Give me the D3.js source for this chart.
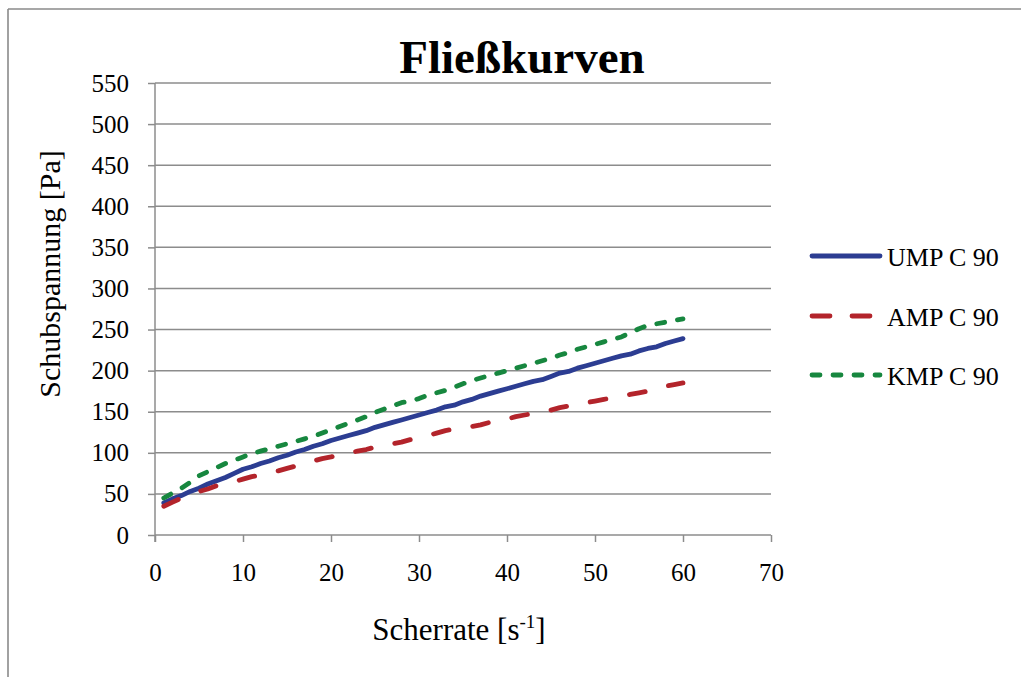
<!DOCTYPE html>
<html>
<head>
<meta charset="utf-8">
<script src="https://cdn.jsdelivr.net/npm/d3@7"></script>
<style>
  html, body { margin: 0; padding: 0; background: #fff; }
  svg { display: block; }
  text { font-family: "Liberation Serif", "Times New Roman", serif; fill: #000; }
</style>
</head>
<body>
<svg id="chart" width="1021" height="677"></svg>
<script>
// Shear rate [1/s]
const shearRate = d3.range(1, 61);

// Shear stress [Pa] per sample
const ump = [39,44,48,53,57,62,66,70,75,80, 83,87,90,94,97,101,104,108,111,115,
             118,121,124,127,131,134,137,140,143,146, 149,152,156,158,162,165,169,172,175,178,
             181,184,187,189,193,197,199,203,206,209, 212,215,218,220,224,227,229,233,236,239];
const amp = [35,40,45,49,53,56,60,62,65,68, 71,73,76,78,81,84,87,90,93,95,
             98,100,102,104,107,109,111,113,116,118, 121,124,127,129,131,132,134,137,139,141,
             144,146,148,150,152,155,157,159,161,163, 165,167,169,171,173,175,178,181,183,185];
const kmp = [45,51,57,64,72,77,82,87,91,95, 99,102,105,108,111,114,117,120,124,128,
             132,136,140,144,149,153,157,161,163,166, 170,173,176,180,184,188,191,194,197,200,
             203,206,209,212,215,219,222,226,229,232, 235,238,241,246,251,255,257,259,261,263];

const seriesNames = ["UMP C 90", "AMP C 90", "KMP C 90"];
const seriesValues = [ump, amp, kmp];
const seriesColors = ["#2c3d92", "#b3242b", "#17873f"];
const seriesDash = [null, "16,24", "8,13"];

const xTicks = d3.range(0, 71, 10);
const yTicks = d3.range(0, 551, 50);

const svg = d3.select("#chart");
const W = 1021, H = 677;
const serif = "Liberation Serif, Times New Roman, serif";

// chart frame (only top and left edges visible)
svg.append("line").attr("x1", 8).attr("y1", 9).attr("x2", W).attr("y2", 9)
  .attr("stroke", "#8a8a8a").attr("stroke-width", 1.6);
svg.append("line").attr("x1", 8).attr("y1", 9).attr("x2", 8).attr("y2", H)
  .attr("stroke", "#8a8a8a").attr("stroke-width", 1.6);

const x = d3.scaleLinear().domain([0, 70]).range([155, 771]);
const y = d3.scaleLinear().domain([0, 550]).range([535, 83]);

const gridColor = "#8c8c8c";

// horizontal gridlines
svg.append("g").selectAll("line").data(yTicks.filter(v => v > 0)).join("line")
  .attr("x1", x(0)).attr("x2", x(70))
  .attr("y1", d => y(d)).attr("y2", d => y(d))
  .attr("stroke", gridColor).attr("stroke-width", 1.5);

// y axis
const yAxis = svg.append("g").attr("transform", `translate(${x(0)},0)`)
  .call(d3.axisLeft(y).tickValues(yTicks).tickSize(7).tickPadding(19));
yAxis.select(".domain").attr("stroke", gridColor).attr("stroke-width", 1.5)
  .attr("d", `M0,${y(550)}V${y(0) + 7}`);
yAxis.selectAll(".tick line").attr("stroke", gridColor).attr("stroke-width", 1.5);
yAxis.selectAll(".tick text").attr("font-size", 25)
  .attr("font-family", serif).attr("fill", "#000");

// x axis
const xAxis = svg.append("g").attr("transform", `translate(0,${y(0)})`)
  .call(d3.axisBottom(x).tickValues(xTicks).tickSize(7).tickPadding(21));
xAxis.select(".domain").attr("stroke", gridColor).attr("stroke-width", 1.5)
  .attr("d", `M${x(0)},0H${x(70)}`);
xAxis.selectAll(".tick line").attr("stroke", gridColor).attr("stroke-width", 1.5);
xAxis.selectAll(".tick text").attr("font-size", 25)
  .attr("font-family", serif).attr("fill", "#000");

// series lines
const line = d3.line().x((d, i) => x(shearRate[i])).y(d => y(d));
seriesValues.forEach((vals, k) => {
  svg.append("path").datum(vals)
    .attr("d", line)
    .attr("fill", "none")
    .attr("stroke", seriesColors[k])
    .attr("stroke-width", 4.8)
    .attr("stroke-linecap", "round")
    .attr("stroke-linejoin", "round")
    .attr("stroke-dasharray", seriesDash[k]);
});

// title
svg.append("text").attr("x", 522).attr("y", 73).attr("text-anchor", "middle")
  .attr("font-size", 47).attr("font-weight", "bold").text("Fließkurven");

// axis titles
svg.append("text").attr("transform", "translate(60,274) rotate(-90)")
  .attr("text-anchor", "middle").attr("font-size", 30).text("Schubspannung [Pa]");

const xt = svg.append("text").attr("x", 459).attr("y", 640).attr("text-anchor", "middle")
  .attr("font-size", 31);
xt.append("tspan").text("Scherrate [s");
xt.append("tspan").attr("font-size", 19).attr("dy", -12).text("-1");
xt.append("tspan").attr("dy", 12).text("]");

// legend
const legendY = [256, 316, 375];
seriesNames.forEach((name, k) => {
  const g = svg.append("g").attr("transform", `translate(0,${legendY[k]})`);
  g.append("line").attr("x1", 812).attr("x2", k === 1 ? 870 : 880)
    .attr("y1", 0).attr("y2", 0)
    .attr("stroke", seriesColors[k]).attr("stroke-width", 4.8)
    .attr("stroke-linecap", "round")
    .attr("stroke-dasharray", k === 1 ? "18,22" : seriesDash[k]);
  g.append("text").attr("x", 887).attr("y", 10).attr("font-size", 26).text(name);
});
</script>
</body>
</html>
